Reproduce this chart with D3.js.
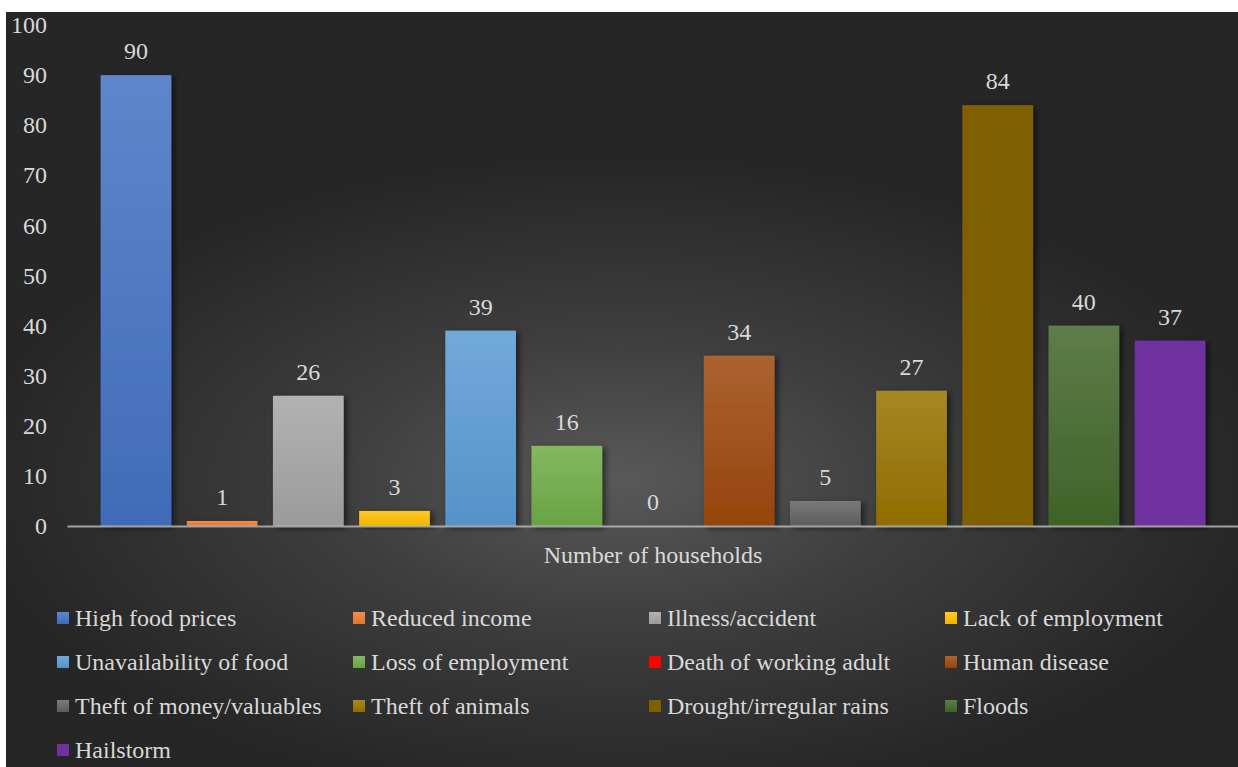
<!DOCTYPE html>
<html>
<head>
<meta charset="utf-8">
<script src="https://cdn.jsdelivr.net/npm/d3@7"></script>
<style>
  html, body { margin: 0; padding: 0; background: #ffffff; }
  svg { display: block; }
  text { font-family: "Liberation Serif", "Times New Roman", serif; fill: #d9d9d9; }
</style>
</head>
<body>
<svg id="chart" width="1238" height="767"></svg>
<script>
// Causes of shocks reported by households
const causes = [
  "High food prices", "Reduced income", "Illness/accident", "Lack of employment",
  "Unavailability of food", "Loss of employment", "Death of working adult", "Human disease",
  "Theft of money/valuables", "Theft of animals", "Drought/irregular rains", "Floods",
  "Hailstorm"
];
const households = [90, 1, 26, 3, 39, 16, 0, 34, 5, 27, 84, 40, 37];
const categoryLabel = ["Number of households"];
const yTicks = [0, 10, 20, 30, 40, 50, 60, 70, 80, 90, 100];

const colors = [
  "#4472C4", "#ED7D31", "#A5A5A5", "#FFC000",
  "#5B9BD5", "#70AD47", "#FF0000", "#9E480E",
  "#636363", "#997300", "#7F6000", "#43682B",
  "#7030A0"
];
// Series drawn with a solid fill instead of the shaded theme fill
const solidFill = new Set(["Death of working adult", "Drought/irregular rains", "Hailstorm"]);

const svg = d3.select("#chart");
const W = 1238, H = 767;
const panel = { x: 6, y: 12, w: W - 6, h: H - 12 };
const plot = { left: 67, right: 1239, top: 25, bottom: 526 };

const defs = svg.append("defs");

// Dark panel with a soft light spot behind the columns
const bg = defs.append("radialGradient")
  .attr("id", "panelGrad")
  .attr("gradientUnits", "userSpaceOnUse")
  .attr("cx", 620).attr("cy", 480).attr("r", 640)
  .attr("gradientTransform", "translate(620,480) scale(1,0.5) translate(-620,-480)");
bg.append("stop").attr("offset", "0").attr("stop-color", "#595959");
bg.append("stop").attr("offset", "0.45").attr("stop-color", "#3e3e3e");
bg.append("stop").attr("offset", "1").attr("stop-color", "#262626");

const shadow = defs.append("filter").attr("id", "barShadow")
  .attr("x", "-20%").attr("y", "-20%").attr("width", "140%").attr("height", "140%");
shadow.append("feDropShadow")
  .attr("dx", 3).attr("dy", 2).attr("stdDeviation", 3)
  .attr("flood-color", "#000").attr("flood-opacity", 0.55);

// Vertical shading per series: lighter top, deeper bottom
causes.forEach((c, i) => {
  const base = d3.color(colors[i]);
  const g = defs.append("linearGradient")
    .attr("id", "fill" + i).attr("x1", 0).attr("y1", 0).attr("x2", 0).attr("y2", 1);
  const top = solidFill.has(c) ? base : d3.interpolateRgb(base, "#ffffff")(0.14);
  const bottom = solidFill.has(c) ? base : d3.interpolateRgb(base, "#000000")(0.06);
  g.append("stop").attr("offset", 0).attr("stop-color", top);
  g.append("stop").attr("offset", 1).attr("stop-color", bottom);
});

svg.append("rect")
  .attr("x", panel.x).attr("y", panel.y)
  .attr("width", panel.w).attr("height", panel.h)
  .attr("fill", "url(#panelGrad)");

// Scales
const x = d3.scaleBand()
  .domain(causes)
  .range([plot.left, plot.right])
  .paddingInner(0.1795)
  .paddingOuter(0.39);

const y = d3.scaleLinear()
  .domain([0, 100])
  .range([plot.bottom, plot.top]);

// Y axis labels (no axis line, no ticks)
const yAxis = svg.append("g")
  .attr("transform", "translate(47,0)")
  .call(d3.axisLeft(y).tickValues(yTicks).tickSize(0).tickPadding(0).tickFormat(d3.format("d")));
yAxis.select(".domain").remove();
yAxis.selectAll("text")
  .attr("font-size", 24)
  .attr("font-family", null)
  .style("fill", "#d9d9d9");

// Columns
svg.append("g").selectAll("rect")
  .data(causes)
  .join("rect")
  .attr("x", d => x(d))
  .attr("y", (d, i) => y(households[i]))
  .attr("width", x.bandwidth())
  .attr("height", (d, i) => y(0) - y(households[i]))
  .attr("fill", (d, i) => "url(#fill" + i + ")")
  .attr("filter", (d, i) => households[i] > 0 ? "url(#barShadow)" : null);

// Category axis along the baseline
const xCat = d3.scaleBand().domain(categoryLabel).range([plot.left, plot.right]);
const xAxis = svg.append("g")
  .attr("transform", `translate(0,${plot.bottom})`)
  .call(d3.axisBottom(xCat).tickSize(0).tickPadding(0).tickSizeOuter(0));
xAxis.select(".domain")
  .attr("stroke", "#bfbfbf").attr("stroke-width", 2).attr("stroke-opacity", 0.8);
xAxis.selectAll("text")
  .attr("font-size", 24)
  .attr("font-family", null)
  .attr("y", 20)
  .style("fill", "#d9d9d9");

// Value labels above each column
svg.append("g").selectAll("text")
  .data(causes)
  .join("text")
  .attr("x", d => x(d) + x.bandwidth() / 2)
  .attr("y", (d, i) => y(households[i]) - 16)
  .attr("text-anchor", "middle")
  .attr("font-size", 24)
  .text((d, i) => households[i]);

// Legend: four columns
const legend = svg.append("g");
const colW = 296, rowH = 44, legX = 57, legY = 626;
const item = legend.selectAll("g")
  .data(causes)
  .join("g")
  .attr("transform", (d, i) => `translate(${legX + (i % 4) * colW},${legY + Math.floor(i / 4) * rowH})`);
item.append("rect")
  .attr("x", 0).attr("y", -14)
  .attr("width", 12).attr("height", 12)
  .attr("fill", (d, i) => "url(#fill" + i + ")");
item.append("text")
  .attr("x", 18).attr("y", 0)
  .attr("font-size", 24)
  .text(d => d);
</script>
</body>
</html>
